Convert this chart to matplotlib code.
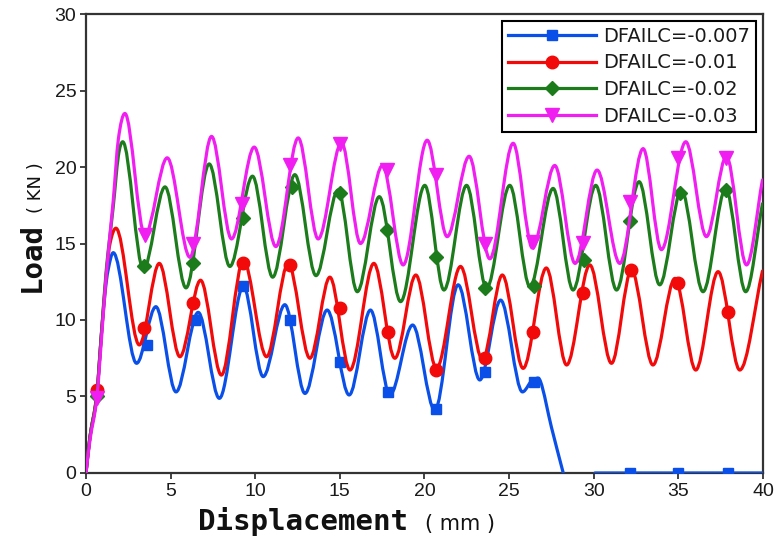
import matplotlib
matplotlib.use('Agg')
import matplotlib.pyplot as plt
from matplotlib.path import Path
from matplotlib.patches import PathPatch
from matplotlib.lines import Line2D

#--------------------------------------------------------------------------------------------------
# DATA  (load curves: turning points of each curve, displacement in mm, load in kN)
#--------------------------------------------------------------------------------------------------

labels = ['DFAILC=-0.007', 'DFAILC=-0.01', 'DFAILC=-0.02', 'DFAILC=-0.03']
colors = ['#0a4fe8', '#f20a0a', '#1c7c1c', '#f01ef0']
markers = ['s', 'o', 'D', 'v']
marker_sizes = [7.5, 9, 7.5, 9.5]

x_007 = [0, 0.24, 0.63, 0.93, 1.2, 1.45, 1.61, 2.99, 4.13, 5.32, 6.63, 7.88, 9.3, 10.47, 11.75,
         12.94, 14.25, 15.55, 16.81, 17.96, 19.3, 20.61, 21.99, 23.27, 24.5, 25.79, 26.45, 26.85,
         27.5, 28.2]
y_007 = [0, 2.4, 5.0, 9.35, 12.5, 14.0, 14.4, 7.17, 10.87, 5.3, 10.5, 4.88, 12.2, 6.3, 11.0,
         5.2, 10.65, 5.1, 10.65, 5.1, 9.67, 4.1, 12.3, 6.08, 11.3, 5.3, 6.1, 6.0,
         3.0, 0]
# element failed: load stays at zero afterwards
x_007_tail = [30.07, 40]
y_007_tail = [0, 0]

x_01 = [0, 0.24, 0.63, 0.93, 1.2, 1.42, 1.77, 3.15, 4.33, 5.55, 6.77, 8.0, 9.3, 10.67, 11.95,
        13.23, 14.41, 15.6, 17.01, 18.25, 19.49, 20.71, 22.13, 23.43, 24.6, 25.83, 27.2, 28.4,
        29.77, 31.05, 32.23, 33.5, 34.8, 36.03, 37.35, 38.63, 39.97]
y_01 = [0, 2.4, 5.1, 9.35, 13.0, 15.0, 16.0, 8.37, 13.7, 7.6, 12.6, 6.4, 13.9, 7.6, 13.7,
        7.5, 12.8, 6.73, 13.7, 7.5, 12.94, 6.84, 13.5, 7.4, 12.94, 6.84, 13.4, 7.06,
        13.6, 7.17, 13.27, 7.06, 12.72, 6.73, 13.16, 6.73, 13.2]

x_02 = [0, 0.24, 0.63, 0.93, 1.2, 1.61, 1.91, 2.17, 3.39, 4.67, 5.91, 7.28, 8.5, 9.84, 11.03,
        12.34, 13.59, 14.9, 16.03, 17.33, 18.59, 20.02, 21.15, 22.49, 23.67, 25.04, 26.23,
        27.6, 28.78, 30.12, 31.35, 32.68, 33.9, 35.18, 36.46, 37.8, 38.98, 39.97]
y_02 = [0, 2.4, 5.0, 9.35, 13.3, 17.4, 20.7, 21.65, 13.3, 18.7, 12.1, 20.2, 13.5, 19.4, 12.8,
        19.5, 12.9, 18.5, 11.85, 18.06, 11.2, 18.8, 11.96, 18.8, 12.07, 18.8, 12.18,
        18.6, 11.96, 18.8, 11.96, 19.04, 12.3, 18.5, 11.85, 18.6, 11.85, 17.6]

x_03 = [0, 0.24, 0.63, 0.93, 1.2, 1.61, 1.91, 2.30, 3.48, 4.80, 6.14, 7.42, 8.6, 9.94, 11.22,
        12.54, 13.72, 15.1, 16.22, 17.52, 18.74, 20.16, 21.34, 22.64, 23.86, 25.24, 26.38,
        27.7, 28.9, 30.2, 31.54, 32.92, 34.0, 35.44, 36.66, 37.84, 39.03, 39.97]
y_03 = [0, 2.2, 4.8, 9.0, 13.0, 17.8, 21.8, 23.5, 15.55, 20.6, 14.1, 22.0, 15.3, 21.3, 14.8,
        21.9, 15.3, 21.6, 15.0, 20.1, 13.6, 21.75, 15.45, 20.7, 14.0, 21.55, 14.7,
        20.1, 13.7, 19.8, 13.7, 21.2, 14.6, 21.65, 15.45, 20.7, 13.6, 19.15]

# symbol positions on each curve
mx_007 = [0.63, 3.58, 6.44, 9.3, 12.05, 15.0, 17.86, 20.7, 23.57, 26.46, 32.13, 35.0, 37.94]
my_007 = [5.3, 8.37, 10.0, 12.2, 10.0, 7.27, 5.3, 4.2, 6.6, 5.95, 0, 0, 0]
mx_01 = [0.63, 3.45, 6.34, 9.3, 12.05, 15.0, 17.82, 20.7, 23.57, 26.4, 29.37, 32.2, 35.0, 37.94]
my_01 = [5.42, 9.5, 11.1, 13.7, 13.6, 10.76, 9.24, 6.73, 7.5, 9.24, 11.75, 13.27, 12.44, 10.54]
mx_02 = [0.63, 3.45, 6.34, 9.3, 12.15, 15.0, 17.76, 20.7, 23.57, 26.46, 29.4, 32.13, 35.09, 37.84]
my_02 = [5.0, 13.5, 13.75, 16.65, 18.7, 18.3, 15.9, 14.1, 12.1, 12.2, 13.9, 16.5, 18.3, 18.5]
mx_03 = [0.63, 3.48, 6.34, 9.2, 12.05, 15.0, 17.76, 20.7, 23.57, 26.4, 29.34, 32.13, 35.0, 37.84]
my_03 = [4.9, 15.55, 15.0, 17.6, 20.1, 21.5, 19.8, 19.5, 15.0, 15.1, 15.05, 17.7, 20.6, 20.6]

curves = [[(x_007, y_007), (x_007_tail, y_007_tail)],
          [(x_01, y_01)],
          [(x_02, y_02)],
          [(x_03, y_03)]]
symbols = [(mx_007, my_007), (mx_01, my_01), (mx_02, my_02), (mx_03, my_03)]

#--------------------------------------------------------------------------------------------------
# HELPERS
#--------------------------------------------------------------------------------------------------

def smooth_path(pieces):
    # cubic bezier through the turning points, flat tangent at every peak and valley
    verts, codes = [], []
    for xs, ys in pieces:
        n = len(xs)
        slope = []
        for i in range(n):
            if i == 0:
                s = (ys[1] - ys[0]) / (xs[1] - xs[0])
            elif i == n - 1:
                s = (ys[-1] - ys[-2]) / (xs[-1] - xs[-2])
            elif (ys[i] - ys[i - 1]) * (ys[i + 1] - ys[i]) <= 0:
                s = 0.0
            else:
                s = (ys[i + 1] - ys[i - 1]) / (xs[i + 1] - xs[i - 1])
            slope.append(s)
        verts.append((xs[0], ys[0]))
        codes.append(Path.MOVETO)
        for i in range(n - 1):
            h = (xs[i + 1] - xs[i]) / 3.0
            verts += [(xs[i] + h, ys[i] + slope[i] * h),
                      (xs[i + 1] - h, ys[i + 1] - slope[i + 1] * h),
                      (xs[i + 1], ys[i + 1])]
            codes += [Path.CURVE4] * 3
    return Path(verts, codes)

#--------------------------------------------------------------------------------------------------
# PLOT
#--------------------------------------------------------------------------------------------------

fig = plt.figure(figsize=(7.81, 5.37), dpi=100)
ax = fig.add_axes([0.1101, 0.1192, 0.8668, 0.8547])

handles = []
for k in range(4):
    patch = PathPatch(smooth_path(curves[k]), fill=False, edgecolor=colors[k], lw=2.3,
                      capstyle='round', joinstyle='round', zorder=3 + k)
    ax.add_patch(patch)
    ax.plot(symbols[k][0], symbols[k][1], linestyle='none', marker=markers[k],
            ms=marker_sizes[k], color=colors[k], mec=colors[k], zorder=3.5 + k)
    handles.append(Line2D([], [], color=colors[k], lw=2.3, marker=markers[k],
                          ms=marker_sizes[k], label=labels[k]))

ax.set_xlim(0, 40)
ax.set_ylim(0, 30)
ax.set_xticks(range(0, 41, 5))
ax.set_yticks(range(0, 31, 5))
ax.tick_params(direction='out', length=4, width=1.3, labelsize=14, colors='#333333',
               labelcolor='#1a1a1a', top=False, right=False, pad=3)
for lab in ax.get_xticklabels() + ax.get_yticklabels():
    lab.set_family('Liberation Sans')
for sp in ax.spines.values():
    sp.set_linewidth(1.6)
    sp.set_color('#333333')

leg = ax.legend(handles=handles, loc='upper right', fontsize=14, handlelength=4.5,
                handletextpad=0.4, borderpad=0.3, labelspacing=0.4, borderaxespad=0.35,
                fancybox=False, framealpha=1, edgecolor='black')
leg.get_frame().set_linewidth(1.5)
for t in leg.get_texts():
    t.set_color('#1a1a1a')

# axis titles
fig.text(0.2535, 0.013, 'Displacement', family='DejaVu Sans Mono', weight='bold',
         fontsize=21, va='baseline', ha='left', color='#111111')
fig.text(0.544, 0.013, '( mm )', family='DejaVu Sans', fontsize=15,
         va='baseline', ha='left', color='#111111')
fig.text(0.041, 0.456, 'Load', family='DejaVu Sans Mono', weight='bold', fontsize=21,
         rotation=90, ha='center', va='bottom', color='#111111')
fig.text(0.046, 0.603, '( KN )', family='DejaVu Sans', fontsize=13,
         rotation=90, ha='center', va='bottom', color='#111111')

fig.savefig('out.png', dpi=100)
